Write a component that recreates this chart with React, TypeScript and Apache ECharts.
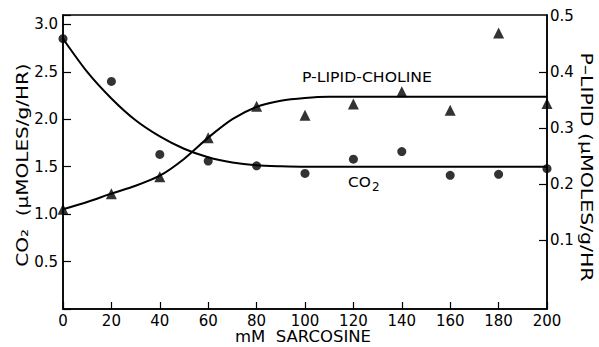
import React, { useEffect, useRef } from "react";
import * as echarts from "echarts";

// Measured points
const sarcosine = [0, 20, 40, 60, 80, 100, 120, 140, 160, 180, 200];
const co2Values = [2.85, 2.4, 1.63, 1.56, 1.51, 1.43, 1.58, 1.66, 1.41, 1.42, 1.48];
const lipidValues = [0.155, 0.183, 0.213, 0.283, 0.339, 0.323, 0.343, 0.365, 0.332, 0.47, 0.344];

// Hand-drawn fit curves
const co2FitX = [0, 10, 20, 30, 40, 50, 60, 70, 80, 90, 100, 200];
const co2FitY = [2.85, 2.5, 2.22, 1.99, 1.82, 1.69, 1.6, 1.545, 1.515, 1.505, 1.5, 1.5];
const lipidFitX = [0, 10, 20, 30, 40, 50, 60, 70, 80, 90, 100, 110, 200];
const lipidFitY = [0.155, 0.168, 0.183, 0.197, 0.215, 0.245, 0.283, 0.316, 0.338, 0.349, 0.354, 0.356, 0.356];

const xTicks = [0, 20, 40, 60, 80, 100, 120, 140, 160, 180, 200];
const rightTicks = [0.1, 0.2, 0.3, 0.4];
const rightLabels = [0.1, 0.2, 0.3, 0.4, 0.5];

const FONT = "DejaVu Sans";

export default function App() {
  const ref = useRef<HTMLDivElement>(null);
  useEffect(() => {
    if (!ref.current) return;
    const chart = echarts.init(ref.current, null, { renderer: "svg" });
    const pair = (xs: number[], ys: number[]) => xs.map((x, i) => [x, ys[i]]);
    chart.setOption({
      animation: false,
      backgroundColor: "#fff",
      textStyle: { fontFamily: FONT, color: "#000" },
      grid: {
        left: 63,
        right: 52,
        top: 15,
        bottom: 38,
        containLabel: false,
        outerBoundsMode: "none",
        show: true,
        borderColor: "#000",
        borderWidth: 1.5,
      },
      xAxis: {
        type: "value",
        min: 0,
        max: 200,
        interval: 20,
        axisLine: { show: true, lineStyle: { color: "#000", width: 1.5 } },
        axisTick: { show: true, inside: true, length: 7, lineStyle: { color: "#000", width: 1.2 } },
        axisLabel: { fontSize: 15, color: "#000", margin: 4, fontFamily: FONT, customValues: xTicks },
        splitLine: { show: false },
      },
      yAxis: [
        {
          type: "value",
          min: 0,
          max: 3.1,
          interval: 0.5,
          axisLine: { show: true, lineStyle: { color: "#000", width: 1.5 } },
          axisTick: { show: true, inside: true, length: 8, lineStyle: { color: "#000", width: 1.2 } },
          axisLabel: {
            fontSize: 15,
            color: "#000",
            margin: 5,
            fontFamily: FONT,
            formatter: (v: number) => (v > 0.01 && v < 3.05 ? v.toFixed(1) : ""),
          },
          splitLine: { show: false },
        },
        {
          type: "value",
          min: -0.023,
          max: 0.502,
          position: "right",
          axisLine: { show: true, lineStyle: { color: "#000", width: 1.5 } },
          axisTick: {
            show: true,
            inside: true,
            length: 8,
            customValues: rightTicks,
            lineStyle: { color: "#000", width: 1.2 },
          },
          axisLabel: {
            fontSize: 15,
            color: "#000",
            margin: 3,
            fontFamily: FONT,
            customValues: rightLabels,
            formatter: (v: number) => v.toFixed(1),
          },
          splitLine: { show: false },
        },
      ],
      series: [
        {
          type: "line",
          yAxisIndex: 0,
          data: pair(co2FitX, co2FitY),
          smooth: 0.25,
          showSymbol: false,
          symbol: "none",
          lineStyle: { color: "#000", width: 2 },
          z: 2,
        },
        {
          type: "line",
          yAxisIndex: 1,
          data: pair(lipidFitX, lipidFitY),
          smooth: 0.25,
          showSymbol: false,
          symbol: "none",
          lineStyle: { color: "#000", width: 2 },
          z: 2,
        },
        {
          type: "scatter",
          yAxisIndex: 0,
          data: pair(sarcosine, co2Values),
          symbol: "circle",
          symbolSize: 9,
          itemStyle: { color: "#000" },
          z: 3,
        },
        {
          type: "scatter",
          yAxisIndex: 1,
          data: pair(sarcosine, lipidValues),
          symbol: "triangle",
          symbolSize: 11,
          itemStyle: { color: "#000" },
          z: 3,
        },
      ],
      graphic: [
        {
          type: "text",
          x: 303,
          y: 337,
          scaleX: 1.1,
          style: {
            text: "mM  SARCOSINE",
            fontSize: 15,
            fontFamily: FONT,
            fill: "#000",
            align: "center",
            verticalAlign: "middle",
          },
        },
        {
          type: "text",
          x: 22,
          y: 165,
          rotation: Math.PI / 2,
          scaleX: 1.25,
          style: {
            text: "CO₂  (µMOLES/g/HR)",
            fontSize: 16,
            fontFamily: FONT,
            fill: "#000",
            align: "center",
            verticalAlign: "middle",
          },
        },
        {
          type: "text",
          x: 587,
          y: 167,
          rotation: -Math.PI / 2,
          scaleX: 1.28,
          style: {
            text: "P–LIPID (µMOLES/g/HR",
            fontSize: 16,
            fontFamily: FONT,
            fill: "#000",
            align: "center",
            verticalAlign: "middle",
          },
        },
        {
          type: "text",
          x: 302,
          y: 77,
          scaleX: 1.12,
          style: {
            text: "P-LIPID-CHOLINE",
            fontSize: 14,
            fontFamily: FONT,
            fill: "#000",
            align: "left",
            verticalAlign: "middle",
          },
        },
        {
          type: "text",
          x: 348,
          y: 182,
          scaleX: 1.1,
          style: { text: "CO", fontSize: 14, fontFamily: FONT, fill: "#000", align: "left", verticalAlign: "middle" },
        },
        {
          type: "text",
          x: 372,
          y: 187,
          style: { text: "2", fontSize: 12, fontFamily: FONT, fill: "#000", align: "left", verticalAlign: "middle" },
        },
      ],
    });
    return () => chart.dispose();
  }, []);
  return (
    <div
      ref={ref}
      style={{ position: "fixed", left: 0, top: 0, width: 599, height: 347 }}
    />
  );
}
